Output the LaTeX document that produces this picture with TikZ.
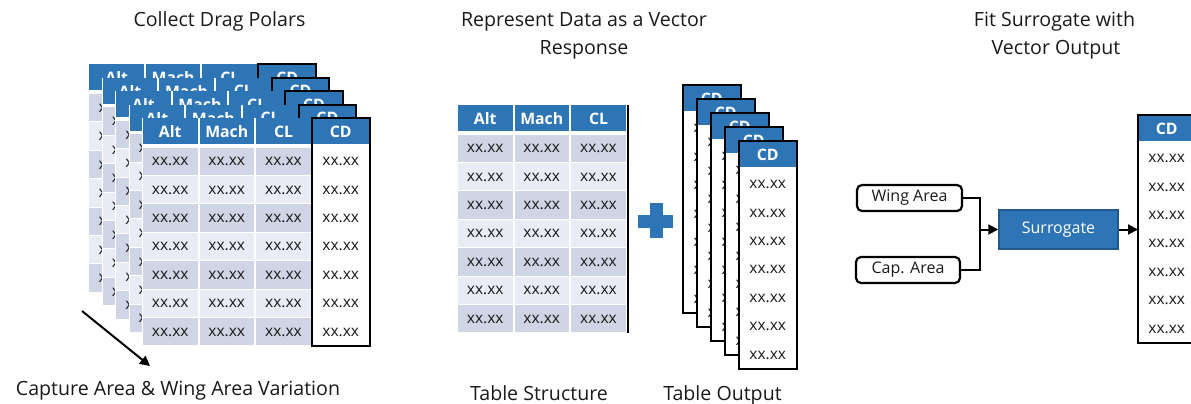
\documentclass[tikz,border=0pt]{standalone}
\usepackage{fontspec}
\setmainfont{Open Sans}
\usetikzlibrary{arrows.meta}

\definecolor{hdblue}{HTML}{2E75B6}
\definecolor{rowdark}{HTML}{CFD5E5}
\definecolor{rowlight}{HTML}{E9ECF4}
\definecolor{surborder}{HTML}{21598F}
\definecolor{ink}{HTML}{1A1A1A}

\tikzset{
  hdtext/.style={text=white, font=\fontsize{15.8}{15.8}\selectfont\bfseries, inner sep=0pt},
  celltext/.style={text=ink, font=\fontsize{15.5}{15.5}\selectfont, inner sep=0pt},
  title/.style={text=ink, font=\fontsize{19.6}{27}\selectfont, inner sep=0pt, anchor=base},
  cdframe/.style={draw=black, line width=2pt, minimum width=57.5pt, minimum height=228pt,
                  inner sep=0pt, outer sep=0pt, anchor=north west},
  inbox/.style={draw=black, line width=2.2pt, rounded corners=5pt, minimum height=26pt,
                inner sep=0pt, text=ink, font=\fontsize{16}{16}\selectfont},
  surbox/.style={fill=hdblue, draw=surborder, line width=1.5pt, minimum width=119pt,
                 minimum height=39pt, inner sep=0pt, text=white, font=\fontsize{16}{16}\selectfont},
  conn/.style={draw=black, line width=2pt},
  tip/.style={-{Triangle[length=10pt,width=10pt]}},
}

% Three banded columns (Alt / Mach / CL) with a blue header row.
% #4 = 1: every value is printed; #4 = 0: the table sits behind another one,
% so only the sliver of the first column that shows on its left is printed.
\newcommand{\bandtable}[4]{%
  \begin{scope}[shift={(#2,#3)}]
    \fill[white] (0,0) rectangle (170,228);
    \foreach \c/\lab/\xa/\xb in {1/Alt/0/56.5,2/Mach/56.5/113,3/CL/113/170}{
      \fill[hdblue] (\xa+1,0) rectangle (\xb-1,26);
      \node[hdtext] (#1-h\c) at ({(\xa+\xb)/2},13.5) {\lab};
      \foreach \r in {0,...,6}{
        \ifodd\r\relax \def\rc{rowlight}\else \def\rc{rowdark}\fi
        \fill[\rc] (\xa+1,{29.5+28.4*\r}) rectangle (\xb-1,{56.9+28.4*\r});
        \ifnum#4=1\relax
          \node[celltext] (#1-c\c-\r) at ({(\xa+\xb)/2},{43.7+28.4*\r}) {xx.xx};
        \else\ifnum\c=1\relax
          \node[celltext, anchor=west] (#1-c\c-\r) at (9.9,{43.7+28.4*\r}) {x};
        \fi\fi
      }
    }
  \end{scope}}

% A framed CD column: blue header and seven values.
% #4 = 1: all values; #4 = 0: only the left sliver; #4 = 2: header only.
\newcommand{\cdcolumn}[4]{%
  \begin{scope}[shift={(#2,#3)}]
    \fill[white] (0,0) rectangle (57.5,228);
    \fill[hdblue] (0,0) rectangle (57.5,26);
    \node[hdtext] (#1-h) at (28.75,13.5) {CD};
    \ifnum#4<2\relax
    \foreach \r in {0,...,6}{
      \ifnum#4=1\relax
        \node[celltext] (#1-v\r) at (28.75,{43.7+28.4*\r}) {xx.xx};
      \else
        \node[celltext, anchor=west] (#1-v\r) at (10.4,{43.7+28.4*\r}) {x};
      \fi
    }
    \fi
  \end{scope}
  \node[cdframe] (#1) at (#2,#3) {};}

\begin{document}
\begin{tikzpicture}[x=1pt,y=-1pt]
\useasboundingbox (0,0) rectangle (1191,404);
\clip (0,0) rectangle (1191,404);

% ---- Collect drag polars: a stack of five full tables
\foreach \k in {0,...,3}{
  \bandtable{pol\k}{88.4+13.4*\k}{64.4+13.4*\k}{0}
  \cdcolumn{polcd\k}{258.4+13.4*\k}{64.4+13.4*\k}{2}
}
\bandtable{pol4}{142}{118}{1}
\cdcolumn{polcd4}{312}{118}{1}
\coordinate (varstart) at (82,311);
\coordinate (varend) at (150,366);
\draw[conn,tip] (varstart) -- (varend);

% ---- Table structure + stacked CD outputs
\bandtable{mid}{457}{105}{1}
\coordinate (midtop) at (628,105);
\coordinate (midbot) at (628,333);
\draw[line width=2pt] (midtop) -- (midbot);

% plus sign
\fill[hdblue] (638,214.5) rectangle (673,227.5);
\fill[hdblue] (649.5,203) rectangle (662.5,238);

\foreach \k in {0,...,3}{
  \cdcolumn{stack\k}{683+14*\k}{85+14*\k}{0}
}
\cdcolumn{stack4}{739}{141}{1}

% ---- Surrogate with vector output
\node[inbox, minimum width=105pt] (wing) at (909.5,198) {Wing Area};
\node[inbox, minimum width=104pt] (cap) at (908,270) {Cap. Area};
\node[surbox] (sur) at (1058.5,229.5) {Surrogate};
\cdcolumn{out}{1138}{115}{1}
\coordinate (join) at (980,229.5);
\draw[conn] (wing.east) -| (join);
\draw[conn] (cap.east) -| (join);
\draw[conn,tip] (join) -- (sur.west);
\draw[conn,tip] (sur.east) -- (sur.east -| out.west);

% ---- titles and captions
\node[title] (t1) at (219.5,27) {Collect Drag Polars};
\node[title] (t2a) at (584,27) {Represent Data as a Vector};
\node[title] (t2b) at (584,54.5) {Response};
\node[title] (t3a) at (1054.5,27) {Fit Surrogate with};
\node[title] (t3b) at (1056,54.5) {Vector Output};
\node[title] (cap1) at (178,395) {Capture Area \& Wing Area Variation};
\node[title] (cap2) at (539,400) {Table Structure};
\node[title] (cap3) at (722.5,400) {Table Output};
\end{tikzpicture}
\end{document}
